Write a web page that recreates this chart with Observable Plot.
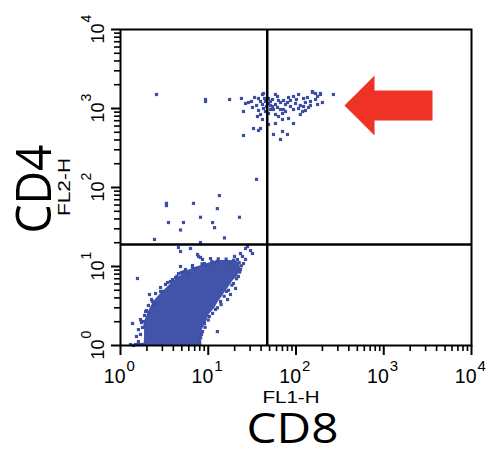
<!DOCTYPE html>
<html><head><meta charset="utf-8">
<script src="https://cdn.jsdelivr.net/npm/d3@7"></script>
<script src="https://cdn.jsdelivr.net/npm/@observablehq/plot@0.6"></script>
<style>body{margin:0;background:#fff} svg{display:block}</style>
</head><body><div id="chart"></div>
<script>
// Axis ticks (log decades 10^0 .. 10^4)
const decades = [1, 10, 100, 1000, 10000];
const exponents = ["0", "1", "2", "3", "4"];
const minorTicks = [2,3,4,5,6,7,8,9, 20,30,40,50,60,70,80,90, 200,300,400,500,600,700,800,900, 2000,3000,4000,5000,6000,7000,8000,9000];

// Quadrant gates
const gateCD8 = 47;
const gateCD4 = 19;

// Events [CD8 (FL1-H), CD4 (FL2-H)]
const upperLeftEvents = [[2.57,1504],[9.31,1300],[9.31,1227],[17.5,1300],[23.9,1339]];
const upperClusterEvents = [
  [25.2,916],[25.2,455],[26.6,1157],[28.8,1191],[31.1,1227],[33.7,1378],[37.4,1339],[41.5,1504],[42.6,1549],[37.4,944],
  [36.4,792],[39.4,840],[41.5,1124],[42.6,1000],[44.9,916],[32.8,558],[37.4,527],[39.4,558],[55.4,469],[70.2,512],
  [80.0,469],[66.6,405],[58.4,1504],[61.5,1419],[63.2,1263],[51.2,1227],[54.0,1060],[55.4,971],[48.6,864],[58.4,840],
  [63.2,792],[70.2,864],[72.1,971],[75.9,1124],[80.0,1191],[86.5,1060],[93.7,1419],[98.7,1157],[107,1000],[119,916],
  [112,840],[93.7,646],[58.4,646],[128,1191],[135,1378],[154,1594],[167,1300],[176,1419],[190,1504],[200,1191],
  [139,1030],[122,1060],[48.6,627],[70.2,726],[82.2,747],[267,1504],[190,1549],[146,1227],[154,1641],
  [44.9,1227],[48.6,1157],[51.2,1092],[46.1,1060],[43.8,1339],[48.6,1339],[54.0,1300],[51.2,971],[58.4,1124],[61.5,1030],
  [66.6,1191],[66.6,971],[72.1,1263],[75.9,916],[82.2,1378],[86.5,1263],[93.7,971],[101,1300],[107,1504],[112,1092],
  [122,1339],[128,944],[146,1092],[167,1549],[176,1124],[39.4,1227],[35.5,1092],[31.9,1030],[41.5,726]
];
const midEvents = [[35.5,127],[13.4,79],[3.34,63],[3.34,59],[6.79,63],[12.7,54],[22.7,42],[8.16,42],[3.52,36],[5.22,36],
  [11.2,36],[11.8,31],[4.83,29],[2.44,22],[15.3,23],[8.16,20.1]];
const lowerEvents = [[4.58,17.4],[6.28,16.9],[4.83,15.5],[7.74,13.4],[8.60,12.3],[12.7,11.6],[19.9,13.4],[21.5,12.3],[26.6,16.9],[28.0,17.9],
  [30.3,15.9],[31.9,14.6],[1.56,7.05],[4.83,10.0],[5.80,8.15],[2.14,4.42],[2.51,3.40],[1.37,1.90],[1.69,2.13],[1.83,2.01],
  [12.7,1.50],[16.6,3.82],[17.9,4.42],[20.5,5.27],[1.30,1.03],[10.6,12.6],[11.5,10.9],[23.3,14.6],[24.5,13.4],[7.54,14.2],
  [8.16,13.0],[17.9,10.9]];
const fringeEvents = [[1.48,1.03],[1.60,1.03],[1.73,1.03],[1.88,1.03],[1.41,1.0],[1.60,1.12],[1.69,1.38],[1.78,1.69],[1.73,1.95],[1.88,2.40],
  [1.98,2.77],[2.08,3.21],[2.26,3.82],[2.51,4.55],[2.86,5.42],[3.43,6.27],[4.24,7.26],[4.96,8.40],[7.16,9.43],[9.31,10.3],
  [1.93,2.69],[2.31,3.61],[2.86,4.83],[3.26,5.92],[3.91,6.84],[4.58,8.15],[5.51,9.16],[6.62,10.3],[9.06,10.9],[1.60,1.59],
  [1.52,1.30],[23.3,9.16],[22.1,7.47],[19.4,6.09],[16.1,4.83],[13.8,3.61],[12.1,2.86],[10.3,2.33],[9.06,1.90],[8.38,1.38],
  [7.95,1.12],[25.2,10.9],[26.6,12.3],
  [3.71,6.46],[3.0,4.83],[2.4,3.3],[2.1,2.6],[1.9,1.8],[4.4,7.5],[5.3,8.6],[6.6,9.9],[8.5,10.8],[11.0,11.6],
  [13.0,12.5],[16.0,12.4],[19.5,12.0],[22.5,11.2],[23.8,10.2],[22.8,8.5],[21.0,7.0],[18.6,5.8],[17.0,5.0],[15.2,4.2],
  [14.0,3.3],[12.7,3.0],[11.2,2.55],[10.0,2.1],[9.2,1.7],[8.6,1.5],[8.2,1.25],[8.0,1.05]];

// Dense double-negative core: for each CD4 level, CD8 extent
const coreCD4 = [1.00, 1.23, 1.50, 2.01, 2.47, 2.94, 3.61, 4.17, 4.83, 5.58, 6.46, 7.47, 8.65, 9.71, 10.9, 11.9];
const coreCD8Low = [1.85, 1.88, 1.88, 1.88, 2.03, 2.17, 2.40, 2.68, 3.05, 3.50, 3.97, 4.70, 5.50, 7.10, 9.80, 12.8];
const coreCD8High = [8.2, 8.4, 8.4, 9.55, 10.3, 11.8, 13.1, 14.5, 15.7, 17.4, 18.9, 21.5, 22.7, 23.3, 22.7, 20.4];

// Red arrow outline (CD8, CD4)
const arrowCD8 = [357, 785, 785, 3594, 3594, 785, 785, 357];
const arrowCD4 = [1092, 2617, 1690, 1690, 705, 705, 455, 1092];

const blue = "#3b4da5";
const red = "#ee3226";
const core = coreCD4.map((y, i) => ({y, x1: coreCD8Low[i], x2: coreCD8High[i]}));
const events = [...upperLeftEvents, ...upperClusterEvents, ...midEvents, ...lowerEvents, ...fringeEvents];
const arrow = arrowCD8.map((x, i) => ({x, y: arrowCD4[i]}));

const plot = Plot.plot({
  width: 487, height: 449,
  marginLeft: 120, marginRight: 16, marginTop: 29, marginBottom: 104,
  x: {type: "log", domain: [1, 10000], axis: null},
  y: {type: "log", domain: [1, 10000], axis: null},
  style: {fontFamily: "'Liberation Sans', Arial, sans-serif", background: "white", color: "black"},
  marks: [
    Plot.areaX(core, {y: "y", x1: "x1", x2: "x2", fill: "#4154a9"}),
    Plot.dot(events, {x: d => d[0], y: d => d[1], symbol: "square", r: 1.8, fill: blue, stroke: "none"}),
    Plot.ruleX([gateCD8], {stroke: "black", strokeWidth: 2.5}),
    Plot.ruleY([gateCD4], {stroke: "black", strokeWidth: 2.5}),
    Plot.frame({stroke: "black", strokeWidth: 2}),
    Plot.line(arrow, {x: "x", y: "y", fill: red, stroke: "none", curve: "linear"}),
    Plot.axisX({ticks: minorTicks, tickSize: 6, tickFormat: () => "", strokeWidth: 1.6, anchor: "bottom", label: null}),
    Plot.axisX({ticks: decades, tickSize: 10, tickFormat: () => "", strokeWidth: 2, anchor: "bottom", label: null}),
    Plot.axisY({ticks: minorTicks, tickSize: 6, tickFormat: () => "", strokeWidth: 1.6, anchor: "left", label: null}),
    Plot.axisY({ticks: decades, tickSize: 9, tickFormat: () => "", strokeWidth: 2, anchor: "left", label: null}),
    // x tick labels 10^n
    Plot.text(decades, {x: d => d, frameAnchor: "bottom", text: () => "10", textAnchor: "end", lineAnchor: "bottom", dx: 5, dy: 37, fontSize: 19.5, fill: "black"}),
    Plot.text(decades, {x: d => d, frameAnchor: "bottom", text: (d, i) => exponents[i], textAnchor: "start", lineAnchor: "bottom", dx: 6, dy: 25, fontSize: 15, fill: "black"}),
    // y tick labels 10^n (rotated)
    Plot.text(decades, {y: d => d, frameAnchor: "left", text: () => "10", rotate: -90, textAnchor: "end", lineAnchor: "bottom", dx: -17, dy: -6, fontSize: 18, fill: "black"}),
    Plot.text(decades, {y: d => d, frameAnchor: "left", text: (d, i) => exponents[i], rotate: -90, textAnchor: "start", lineAnchor: "bottom", dx: -30, dy: -7, fontSize: 14, fill: "black"}),
    // axis titles
    Plot.text(["FL1-H"], {text: d => d, frameAnchor: "bottom", textAnchor: "middle", lineAnchor: "bottom", dx: -5, dy: 57, fontSize: 17, fill: "black"}),
    Plot.text(["CD8"], {text: d => d, frameAnchor: "bottom", textAnchor: "middle", lineAnchor: "bottom", dx: -3.5, dy: 97, fontSize: 42, fontFamily: "'Open Sans', sans-serif", fill: "black"}),
    Plot.text(["FL2-H"], {text: d => d, frameAnchor: "left", rotate: -90, textAnchor: "middle", lineAnchor: "bottom", dx: -51, dy: -0.5, fontSize: 16, fill: "black"}),
    Plot.text(["CD4"], {text: d => d, frameAnchor: "left", rotate: -90, textAnchor: "middle", lineAnchor: "bottom", dx: -70, dy: 1.5, fontSize: 50, fontFamily: "'Open Sans', sans-serif", fill: "black"})
  ]
});
document.getElementById("chart").append(plot);
const lengths = {"CD8": 92, "CD4": 89, "FL1-H": 57, "FL2-H": 58};
plot.querySelectorAll("text").forEach(t => {
  const L = lengths[t.textContent];
  if (L) { t.setAttribute("textLength", L); t.setAttribute("lengthAdjust", "spacingAndGlyphs"); }
});
</script>
</body></html>
